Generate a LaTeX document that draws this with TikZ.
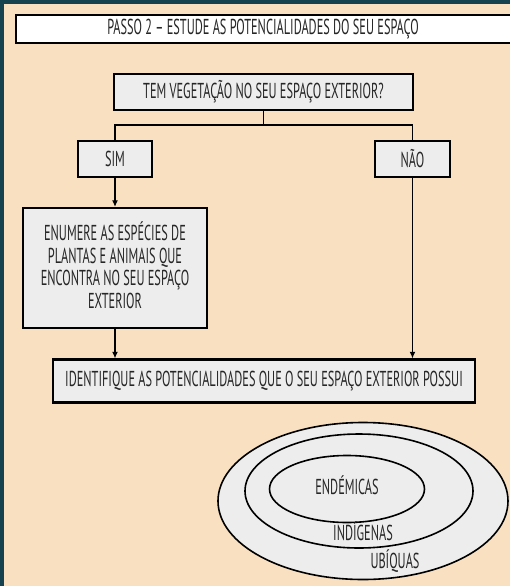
\documentclass[tikz,border=0pt]{standalone}
\usepackage{fontspec}
\setmainfont{PT Sans}[FakeStretch=0.57]
\usetikzlibrary{shapes.geometric,arrows.meta}
\definecolor{teal}{HTML}{16414F}
\definecolor{peach}{HTML}{F9E0C0}
\definecolor{boxgray}{HTML}{EDEDED}
\tikzset{
  px/.style={x=0.75pt,y=-0.75pt},
  box/.style={draw=black,line width=1.6pt,fill=boxgray,inner sep=0pt,align=center,
    font=\fontsize{16.2}{15}\selectfont,text=black!85},
  conn/.style={line width=1.2pt,draw=black},
  arr/.style={conn,-{Latex[length=5pt,width=4.5pt]}},
  ell/.style={ellipse,draw=black,line width=1.2pt,fill=boxgray,inner sep=0pt},
  lbl/.style={font=\fontsize{16.2}{15}\selectfont,text=black!85,inner sep=0pt}
}
\begin{document}
\begin{tikzpicture}[px]
\useasboundingbox (0,0) rectangle (510,586);
\fill[teal] (0,0) rectangle (510,586);
\fill[peach] (4,4) rectangle (510,586);
% header
\node[box,fill=white,minimum width={500*0.75pt},minimum height={28*0.75pt},anchor=west] (hd) at (15,29) {};
\node[lbl] (hdt) at (263,29) {PASSO 2 – ESTUDE AS POTENCIALIDADES DO SEU ESPAÇO};
% question
\node[box,minimum width={299*0.75pt},minimum height={36*0.75pt}] (q) at (263.5,92) {TEM VEGETAÇÃO NO SEU ESPAÇO EXTERIOR?};
\node[box,minimum width={74*0.75pt},minimum height={36*0.75pt}] (sim) at (115,159) {SIM};
\node[box,minimum width={75*0.75pt},minimum height={36*0.75pt}] (nao) at (412.5,159) {NÃO};
\node[box,minimum width={184*0.75pt},minimum height={120*0.75pt}] (enum) at (115,268)
  {\strut ENUMERE AS ESPÉCIES DE\\[0pt]\strut PLANTAS E ANIMAIS QUE\\\strut ENCONTRA NO SEU ESPAÇO\\\strut EXTERIOR};
\node[box,minimum width={422*0.75pt},minimum height={43*0.75pt}] (id) at (264,381)
  {IDENTIFIQUE AS POTENCIALIDADES QUE O SEU ESPAÇO EXTERIOR POSSUI};
\coordinate (j) at (263.5,125);
\draw[conn] (q.south) -- (j);
\draw[conn] (sim.north) |- (j) -| (nao.north);
\draw[arr] (sim.south) -- (enum.north);
\draw[arr] (enum.south) -- (enum.south |- id.north);
\draw[arr] (nao.south) -- (nao.south |- id.north);
% ellipses
\node[ell,minimum width={290*0.75pt},minimum height={157*0.75pt}] (ub) at (363,501) {};
\node[ell,minimum width={228*0.75pt},minimum height={114*0.75pt}] (ind) at (359,491) {};
\node[ell,minimum width={155*0.75pt},minimum height={67*0.75pt}] (end) at (347,489) {};
\node[lbl] (endt) at (347,485) {ENDÉMICAS};
\node[lbl] (indt) at (363,531) {INDÍGENAS};
\node[lbl] (ubt) at (395,561) {UBÍQUAS};
\end{tikzpicture}
\end{document}
